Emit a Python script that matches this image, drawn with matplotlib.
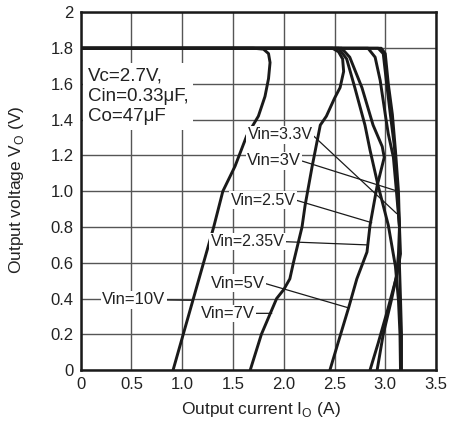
import matplotlib
matplotlib.use("Agg")
import matplotlib.pyplot as plt

# ---- data ----
vin_labels = ["Vin=10V", "Vin=7V", "Vin=5V", "Vin=2.35V", "Vin=2.5V", "Vin=3V", "Vin=3.3V"]

i_10 = [0, 1.70, 1.80, 1.85, 1.865, 1.85, 1.815, 1.75, 1.635, 1.52, 1.40, 1.31, 1.21, 1.11, 1.01, 0.91]
v_10 = [1.8, 1.8, 1.795, 1.77, 1.72, 1.63, 1.53, 1.42, 1.31, 1.14, 1.0, 0.80, 0.60, 0.40, 0.20, 0]

i_7 = [0, 2.48, 2.54, 2.58, 2.59, 2.555, 2.50, 2.42, 2.36, 2.28, 2.21, 2.18, 2.095, 2.06, 2.0, 1.93, 1.78, 1.67]
v_7 = [1.8, 1.8, 1.78, 1.74, 1.67, 1.58, 1.52, 1.42, 1.37, 1.14, 0.92, 0.80, 0.60, 0.51, 0.45, 0.40, 0.20, 0]

i_5 = [0, 2.57, 2.65, 2.77, 2.88, 2.97, 2.99, 2.92, 2.85, 2.82, 2.72, 2.64, 2.555, 2.455]
v_5 = [1.8, 1.8, 1.75, 1.58, 1.37, 1.25, 1.19, 1.03, 0.81, 0.66, 0.51, 0.35, 0.19, 0]

i_235 = [0, 2.54, 2.62, 2.70, 2.80, 2.85, 2.93, 3.03, 3.10, 3.13, 3.145, 3.15]
v_235 = [1.8, 1.8, 1.74, 1.58, 1.37, 1.23, 1.03, 0.81, 0.58, 0.39, 0.20, 0]

i_25 = [0, 2.83, 2.90, 2.95, 3.0, 3.03, 3.08, 3.11, 3.14, 3.14, 3.15, 3.16, 3.16]
v_25 = [1.8, 1.8, 1.75, 1.62, 1.43, 1.32, 1.19, 1.0, 0.80, 0.58, 0.40, 0.20, 0]

i_3 = [0, 2.93, 2.98, 3.01, 3.05, 3.09, 3.12, 3.14, 3.15, 3.13, 3.06, 2.98, 2.92]
v_3 = [1.8, 1.8, 1.77, 1.62, 1.43, 1.25, 1.0, 0.80, 0.65, 0.58, 0.39, 0.20, 0]

i_33 = [0, 2.96, 3.00, 3.03, 3.07, 3.10, 3.13, 3.14, 3.13, 3.11, 3.03, 2.93, 2.85]
v_33 = [1.8, 1.8, 1.77, 1.60, 1.43, 1.23, 1.0, 0.80, 0.65, 0.52, 0.35, 0.15, 0]

curves_i = [i_10, i_7, i_5, i_235, i_25, i_3, i_33]
curves_v = [v_10, v_7, v_5, v_235, v_25, v_3, v_33]

x_ticks = [0, 0.5, 1.0, 1.5, 2.0, 2.5, 3.0, 3.5]
x_ticklabels = ["0", "0.5", "1.0", "1.5", "2.0", "2.5", "3.0", "3.5"]
y_ticks = [0, 0.2, 0.4, 0.6, 0.8, 1.0, 1.2, 1.4, 1.6, 1.8, 2.0]
y_ticklabels = ["0", "0.2", "0.4", "0.6", "0.8", "1.0", "1.2", "1.4", "1.6", "1.8", "2"]

cond_text = "Vc=2.7V,\nCin=0.33\u03bcF,\nCo=47\u03bcF"

# label text positions and leader tips (data coords)
label_text_pos = {
    "Vin=3.3V": (1.963, 1.315),
    "Vin=3V": (1.904, 1.171),
    "Vin=2.5V": (1.796, 0.951),
    "Vin=2.35V": (1.643, 0.718),
    "Vin=5V": (1.545, 0.485),
    "Vin=7V": (1.446, 0.317),
    "Vin=10V": (0.525, 0.392),
}
label_tip = {
    "Vin=3.3V": (3.113, 0.875),
    "Vin=3V": (3.096, 1.005),
    "Vin=2.5V": (2.867, 0.824),
    "Vin=2.35V": (2.818, 0.70),
    "Vin=5V": (2.636, 0.348),
    "Vin=7V": (1.882, 0.317),
    "Vin=10V": (1.09, 0.39),
}
narrow = {"Vin=3.3V", "Vin=2.5V", "Vin=2.35V"}

plt.rcParams["font.family"] = ["Liberation Sans", "DejaVu Sans"]

fig = plt.figure(figsize=(4.54, 4.25), dpi=100)
ax = fig.add_axes([0.1778, 0.1294, 0.7826, 0.8412])

ax.set_xlim(0, 3.5)
ax.set_ylim(0, 2.0)
ax.set_xticks(x_ticks)
ax.set_xticklabels(x_ticklabels)
ax.set_yticks(y_ticks)
ax.set_yticklabels(y_ticklabels)
ax.tick_params(length=0, labelsize=12, pad=5, colors="#222222")
ax.grid(True, color="#555555", lw=1.0)
ax.set_axisbelow(True)
for s in ax.spines.values():
    s.set_linewidth(1.8)
    s.set_color("#1a1a1a")

for xs, ys in zip(curves_i, curves_v):
    ax.plot(xs, ys, color="#1a1a1a", lw=2.1, solid_joinstyle="round", solid_capstyle="round", zorder=3)

ax.text(0.072, 1.53, cond_text, ha="left", va="center", fontsize=13.5, color="#222222",
        linespacing=1.25, zorder=5,
        bbox=dict(boxstyle="square,pad=0.25", fc="white", ec="none"))

for lab in vin_labels:
    tx, ty = label_text_pos[lab]
    fam = ["Liberation Sans Narrow", "Liberation Sans", "DejaVu Sans"] if lab in narrow else ["Liberation Sans", "DejaVu Sans"]
    fs = 11.5 if lab in narrow else 12
    ax.annotate(lab, xy=label_tip[lab], xytext=(tx, ty), textcoords="data",
                ha="center", va="center", fontsize=fs, family=fam, color="#222222", zorder=6,
                bbox=dict(boxstyle="square,pad=0.08", fc="white", ec="none"),
                arrowprops=dict(arrowstyle="-", lw=0.9, color="#1a1a1a",
                                relpos=(1.0, 0.5), shrinkA=0, shrinkB=0))

ax.set_xlabel("Output current I$_{\\mathregular{O}}$ (A)", fontsize=12.5, color="#222222")
ax.set_ylabel("Output voltage V$_{\\mathregular{O}}$ (V)", fontsize=12.5, color="#222222")
ax.xaxis.set_label_coords(0.507, -0.084)
ax.yaxis.set_label_coords(-0.154, 0.503)

fig.savefig("out.png", dpi=100)
